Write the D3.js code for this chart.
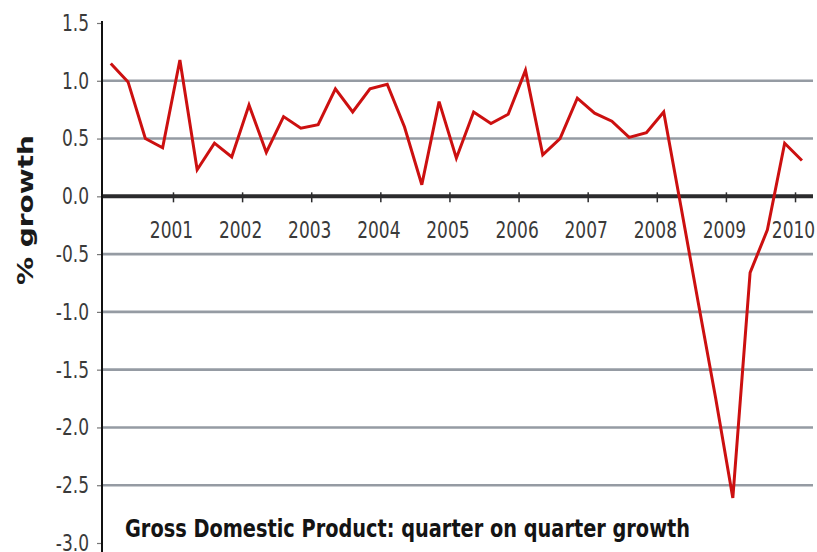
<!DOCTYPE html>
<html>
<head>
<meta charset="utf-8">
<script src="https://cdn.jsdelivr.net/npm/d3@7"></script>
<style>
  html, body { margin: 0; padding: 0; background: #fff; }
  svg { display: block; }
</style>
</head>
<body>
<script>
// ---- data ----
const quarters = [
  "2000Q1","2000Q2","2000Q3","2000Q4",
  "2001Q1","2001Q2","2001Q3","2001Q4",
  "2002Q1","2002Q2","2002Q3","2002Q4",
  "2003Q1","2003Q2","2003Q3","2003Q4",
  "2004Q1","2004Q2","2004Q3","2004Q4",
  "2005Q1","2005Q2","2005Q3","2005Q4",
  "2006Q1","2006Q2","2006Q3","2006Q4",
  "2007Q1","2007Q2","2007Q3","2007Q4",
  "2008Q1","2008Q2","2008Q3","2008Q4",
  "2009Q1","2009Q2","2009Q3","2009Q4",
  "2010Q1"
];
const growth = [
  1.15, 0.99, 0.50, 0.42,
  1.18, 0.23, 0.46, 0.34,
  0.79, 0.38, 0.69, 0.59,
  0.62, 0.93, 0.73, 0.93,
  0.97, 0.60, 0.10, 0.82,
  0.33, 0.73, 0.63, 0.71,
  1.09, 0.36, 0.50, 0.85,
  0.72, 0.65, 0.51, 0.55,
  0.73, -0.09, -0.92, -1.74,
  -2.61, -0.66, -0.29, 0.46,
  0.31
];
const yearTicks = [2001, 2002, 2003, 2004, 2005, 2006, 2007, 2008, 2009, 2010];
const yearLabels = ["2001","2002","2003","2004","2005","2006","2007","2008","2009","2010"];
const yTicks = [1.5, 1.0, 0.5, 0.0, -0.5, -1.0, -1.5, -2.0, -2.5, -3.0];
const yTickLabels = ["1.5","1.0","0.5","0.0","-0.5","-1.0","-1.5","-2.0","-2.5","-3.0"];
const gridValues = [1.0, 0.5, -0.5, -1.0, -1.5, -2.0, -2.5];
const chartTitle = "Gross Domestic Product: quarter on quarter growth";
const yTitle = "% growth";

// ---- layout ----
const W = 817, H = 552;
const svg = d3.select("body").append("svg").attr("width", W).attr("height", H);

const x = d3.scaleLinear().domain([1999.973, 2010.26]).range([102, 813]);
const y = d3.scaleLinear().domain([-3, 1.5]).range([543, 23]);

const qTime = q => +q.slice(0, 4) + (+q.slice(5) - 1) / 4 + 0.1;
const labelFont = '"Liberation Sans Narrow", "Arial Narrow", "DejaVu Sans", sans-serif';
const narrow = 0.74;

// gridlines
svg.append("g").selectAll("line").data(gridValues).join("line")
  .attr("x1", x.range()[0]).attr("x2", x.range()[1])
  .attr("y1", d => y(d)).attr("y2", d => y(d))
  .attr("stroke", "#959ba3").attr("stroke-width", 2.6);

// zero line
svg.append("line")
  .attr("x1", x.range()[0]).attr("x2", x.range()[1])
  .attr("y1", y(0)).attr("y2", y(0))
  .attr("stroke", "#2b2b2d").attr("stroke-width", 4);

// x axis ticks & labels
const xAxis = d3.axisBottom(x).tickValues(yearTicks)
  .tickFormat((d, i) => yearLabels[i]).tickSize(10).tickPadding(19);
const gx = svg.append("g").attr("transform", `translate(0,${y(0) - 4})`).call(xAxis);
gx.select(".domain").remove();
gx.selectAll(".tick line").attr("stroke", "#2b2b2d").attr("stroke-width", 1.5);
gx.selectAll(".tick text").attr("font-family", labelFont).attr("font-size", 23)
  .attr("fill", "#3a3a3a").attr("dx", -2)
  .each(function () {
    const w = this.getComputedTextLength();
    d3.select(this).attr("textLength", w * narrow).attr("lengthAdjust", "spacingAndGlyphs");
  });

// y axis
const yAxis = d3.axisLeft(y).tickValues(yTicks)
  .tickFormat((d, i) => yTickLabels[i]).tickSize(5).tickPadding(8);
const gy = svg.append("g").attr("transform", `translate(${x.range()[0]},0)`).call(yAxis);
gy.select(".domain").remove();
gy.selectAll(".tick line").attr("stroke", "#777").attr("stroke-width", 1.2);
gy.selectAll(".tick text").attr("font-family", labelFont).attr("font-size", 23)
  .attr("fill", "#3a3a3a")
  .each(function () {
    const w = this.getComputedTextLength();
    d3.select(this).attr("textLength", w * narrow).attr("lengthAdjust", "spacingAndGlyphs");
  });

svg.append("line")
  .attr("x1", x.range()[0]).attr("x2", x.range()[0])
  .attr("y1", 21).attr("y2", 552)
  .attr("stroke", "#111").attr("stroke-width", 2);

// data line
const line = d3.line()
  .x((d, i) => x(qTime(quarters[i])))
  .y(d => y(d));
svg.append("path").datum(growth)
  .attr("d", line)
  .attr("fill", "none")
  .attr("stroke", "#cc1010")
  .attr("stroke-width", 3)
  .attr("stroke-linejoin", "miter");

// title
svg.append("text")
  .attr("x", 125).attr("y", 537)
  .attr("font-family", labelFont).attr("font-weight", "bold").attr("font-size", 25)
  .attr("fill", "#141414")
  .attr("textLength", 565).attr("lengthAdjust", "spacingAndGlyphs")
  .text(chartTitle);

// y title
svg.append("text")
  .attr("transform", "translate(33,210) rotate(-90)")
  .attr("text-anchor", "middle")
  .attr("font-family", '"DejaVu Sans", Verdana, sans-serif').attr("font-weight", "bold")
  .attr("font-size", 22).attr("fill", "#1a1a1a")
  .attr("textLength", 150).attr("lengthAdjust", "spacingAndGlyphs")
  .text(yTitle);
</script>
</body>
</html>
